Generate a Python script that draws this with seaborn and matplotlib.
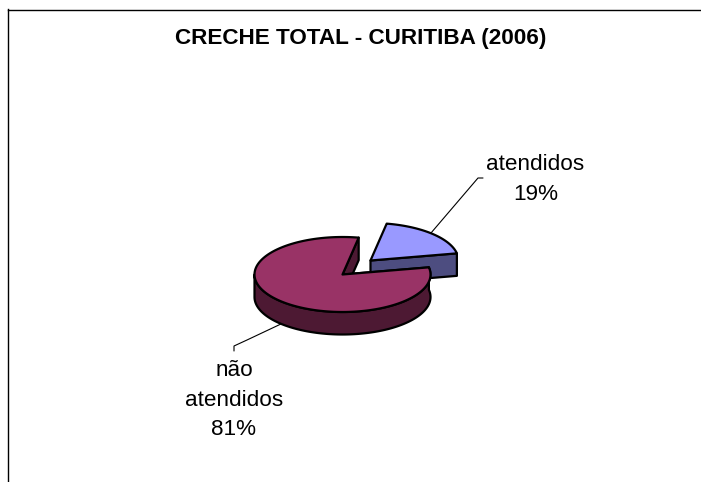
import matplotlib.pyplot as plt
import numpy as np
import seaborn as sns

TITLE = "CRECHE TOTAL - CURITIBA (2006)"
LABELS = ["atendidos\n19%", "não\natendidos\n81%"]
VALUES = [19, 81]
TOP_COLORS = ["#9999FF", "#993366"]
SIDE_COLORS = ["#4D4D80", "#4D1933"]

# geometria do pie em pixels da imagem
WIDTH, HEIGHT = 701, 482
CENTER = (342.5, 274.5)
RX, RY = 88, 37.5
DEPTH = 22.5
START_ANGLE = 11
EXPLODE = (28, -14)


def ponto(theta, cx, cy):
    rad = np.radians(theta)
    return cx + RX * np.cos(rad), cy - RY * np.sin(rad)


def desenhar(ax, xs, ys, color, zorder):
    ax.fill(xs, ys, facecolor=color, edgecolor="black", linewidth=1.6, joinstyle="round", zorder=zorder)


def fatia(ax, inicio, fim, cx, cy, top, side, zorder):
    x0, y0 = ponto(inicio, cx, cy)
    x1, y1 = ponto(fim, cx, cy)

    # parede radial do inicio (fatia menor) e do fim (fatia maior)
    desenhar(ax, [cx, x0, x0, cx], [cy, y0, y0 + DEPTH, cy + DEPTH], side, zorder)
    if fim - inicio > 180:
        desenhar(ax, [cx, x1, x1, cx], [cy, y1, y1 + DEPTH, cy + DEPTH], side, zorder)

    # parede externa, so a parte voltada para a frente
    a = max(inicio, 180)
    if fim > a:
        theta = np.linspace(a, fim, 120)
        xs, ys = ponto(theta, cx, cy)
        desenhar(
            ax,
            np.concatenate([xs, xs[::-1]]),
            np.concatenate([ys, ys[::-1] + DEPTH]),
            side,
            zorder + 0.1,
        )

    theta = np.linspace(inicio, fim, 160)
    xs, ys = ponto(theta, cx, cy)
    desenhar(ax, np.concatenate([[cx], xs]), np.concatenate([[cy], ys]), top, zorder + 0.2)


sns.set_theme(style="white")
plt.rcParams["font.family"] = ["Liberation Sans", "DejaVu Sans"]

fig = plt.figure(figsize=(WIDTH / 100, HEIGHT / 100), dpi=100)
ax = fig.add_axes([8 / WIDTH, 0, 1 - 8 / WIDTH, 1 - 9.5 / HEIGHT])
ax.set_xlim(8, WIDTH)
ax.set_ylim(HEIGHT, 9.5)
ax.set_xticks([])
ax.set_yticks([])
for nome in ["right", "bottom"]:
    ax.spines[nome].set_visible(False)
for nome in ["left", "top"]:
    ax.spines[nome].set_color("black")
    ax.spines[nome].set_linewidth(1.0)

# linhas de chamada ficam atras do pie
ax.plot([483, 478, 425], [178, 178, 240], color="black", linewidth=0.8, zorder=1)
ax.plot([234, 234, 247, 300], [351, 346, 340, 315], color="black", linewidth=0.8, zorder=1)

angulos = np.cumsum([0] + [v * 360 / sum(VALUES) for v in VALUES]) + START_ANGLE
fatia(ax, angulos[0], angulos[1], CENTER[0] + EXPLODE[0], CENTER[1] + EXPLODE[1], TOP_COLORS[0], SIDE_COLORS[0], 2)
fatia(ax, angulos[1], angulos[2], CENTER[0], CENTER[1], TOP_COLORS[1], SIDE_COLORS[1], 3)

ax.text(360.5, 44, TITLE, ha="center", va="baseline", fontsize=16.2, fontweight="bold", color="black")
ax.text(535.5, 200, LABELS[0], ha="center", va="baseline", fontsize=16.2, color="black", linespacing=1.55)
ax.text(234, 435.5, LABELS[1], ha="center", va="baseline", fontsize=16.2, color="black", linespacing=1.55)

fig.savefig("out.png", dpi=100)
